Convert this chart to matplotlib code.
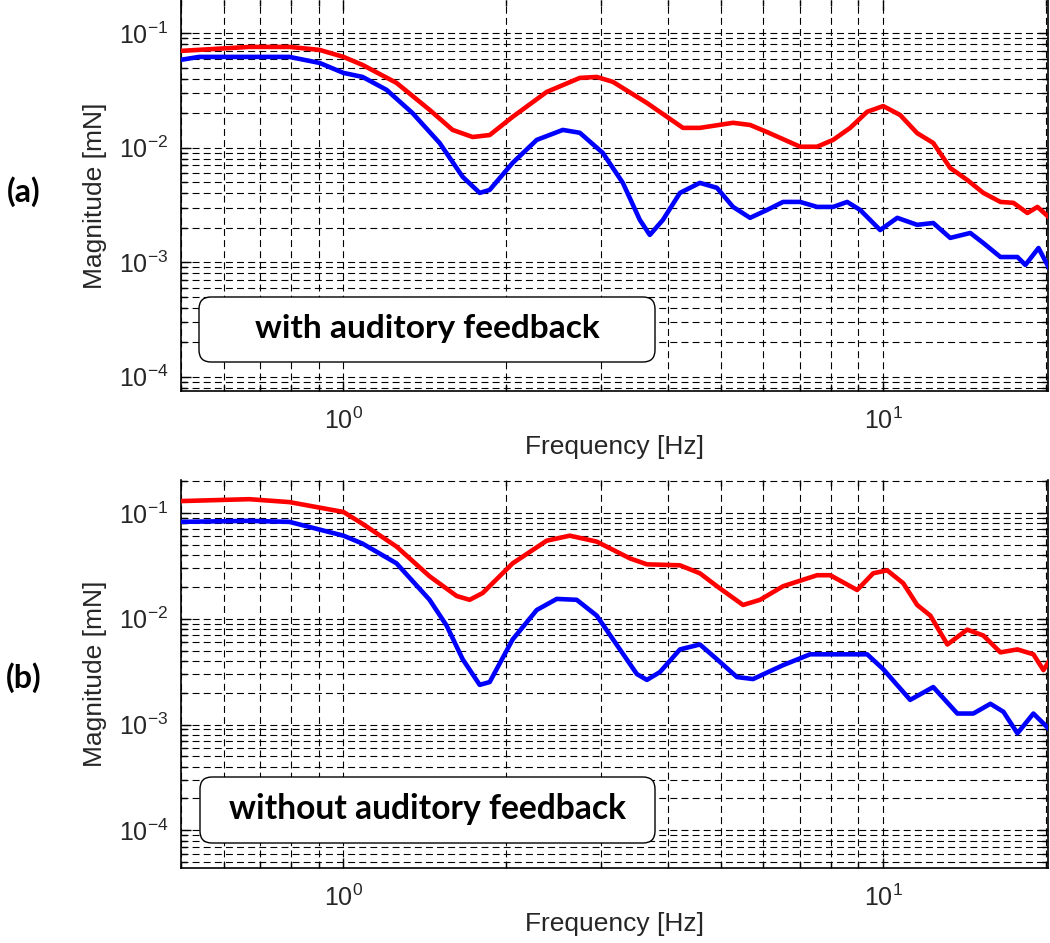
import numpy as np
import matplotlib.pyplot as plt
from matplotlib.patches import FancyBboxPatch
from matplotlib.transforms import IdentityTransform
from matplotlib.ticker import LogLocator, NullFormatter

plt.rcParams['font.family'] = ['Liberation Sans', 'DejaVu Sans']
plt.rcParams['lines.scale_dashes'] = False

# (a) with auditory feedback
f_a_red = [0.498, 0.669, 0.794, 0.903, 1.0, 1.085, 1.254, 1.444, 1.593, 1.735, 1.866,
           2.058, 2.380, 2.741, 2.946, 3.156, 3.649, 4.256, 4.575, 5.270, 5.667, 6.093,
           7.015, 7.544, 8.077, 8.686, 9.340, 10.0, 10.75, 11.56, 12.38, 13.31, 14.31,
           15.33, 16.49, 17.43, 18.50, 19.31, 20.24]
mag_a_red = [0.0700, 0.0759, 0.0759, 0.0715, 0.0621, 0.0528, 0.0368, 0.0214, 0.0143, 0.0124,
             0.0129, 0.0186, 0.0307, 0.0407, 0.0415, 0.0376, 0.0246, 0.0149, 0.0149, 0.0165,
             0.0158, 0.0137, 0.0102, 0.0102, 0.0117, 0.0149, 0.0206, 0.0231, 0.0193, 0.0134,
             0.0110, 0.00665, 0.00523, 0.00403, 0.00336, 0.00330, 0.00269, 0.00304, 0.00249]

f_a_blue = [0.498, 0.540, 0.794, 0.903, 1.0, 1.085, 1.202, 1.342, 1.507, 1.663, 1.788, 1.866,
            2.058, 2.281, 2.549, 2.741, 3.023, 3.293, 3.541, 3.695, 3.907, 4.202, 4.575,
            4.920, 5.270, 5.667, 6.093, 6.524, 7.015, 7.544, 8.077, 8.576, 9.065, 9.872,
            10.62, 11.56, 12.38, 13.31, 14.50, 15.33, 16.49, 17.73, 18.34, 19.40, 20.24]
mag_a_blue = [0.0584, 0.0621, 0.0621, 0.0550, 0.0450, 0.0415, 0.0320, 0.0201, 0.0110, 0.00556,
              0.00403, 0.00428, 0.00737, 0.0117, 0.0143, 0.0135, 0.00901, 0.00493, 0.00234,
              0.00173, 0.00234, 0.00403, 0.00493, 0.00446, 0.00304, 0.00244, 0.00286, 0.00336,
              0.00336, 0.00304, 0.00304, 0.00336, 0.00286, 0.00191, 0.00244, 0.00212, 0.00220,
              0.00163, 0.00180, 0.00147, 0.00111, 0.00111, 0.000947, 0.00133, 0.000910]

# (b) without auditory feedback
f_b_red = [0.498, 0.669, 0.794, 1.0, 1.085, 1.254, 1.444, 1.621, 1.713, 1.811, 2.058, 2.380,
           2.626, 2.946, 3.394, 3.649, 4.202, 4.575, 4.920, 5.499, 5.914, 6.524, 7.544,
           7.976, 8.948, 9.582, 10.17, 10.89, 11.56, 12.23, 13.15, 14.31, 15.33, 16.49,
           17.73, 18.98, 19.81, 20.24]
mag_b_red = [0.1295, 0.135, 0.1267, 0.1022, 0.0789, 0.0481, 0.0252, 0.0164, 0.0151, 0.0175,
             0.0334, 0.0547, 0.0610, 0.0536, 0.0372, 0.0327, 0.0320, 0.0269, 0.0203, 0.0135,
             0.0151, 0.0203, 0.0258, 0.0258, 0.0187, 0.0269, 0.0287, 0.0217, 0.0135, 0.0107,
             0.00571, 0.00789, 0.00694, 0.00481, 0.00513, 0.00461, 0.00327, 0.00388]

f_b_blue = [0.498, 0.669, 0.794, 1.0, 1.085, 1.254, 1.444, 1.553, 1.663, 1.788, 1.866, 2.058,
            2.281, 2.484, 2.705, 2.946, 3.252, 3.496, 3.649, 3.857, 4.202, 4.575, 4.920,
            5.359, 5.739, 6.524, 7.320, 8.216, 9.340, 10.0, 11.22, 12.38, 13.72, 14.69,
            15.80, 16.70, 17.73, 18.98, 20.24]
mag_b_blue = [0.0824, 0.0842, 0.0824, 0.0610, 0.0513, 0.0334, 0.0151, 0.00860, 0.00414,
              0.00237, 0.00252, 0.00637, 0.0121, 0.0154, 0.0151, 0.0107, 0.00513, 0.00300,
              0.00264, 0.00313, 0.00513, 0.00571, 0.00414, 0.00281, 0.00269, 0.00364, 0.00461,
              0.00461, 0.00461, 0.00334, 0.00171, 0.00226, 0.00127, 0.00127, 0.00157, 0.00132,
              0.000825, 0.00127, 0.000918]

W, H = 1050, 943
fig = plt.figure(figsize=(W / 100, H / 100), dpi=100)

ax_a = fig.add_axes([181 / W, 1 - 391 / H, 867 / W, 391 / H])
ax_b = fig.add_axes([181 / W, 1 - 868 / H, 867 / W, 388 / H])

panels = [
    (ax_a, f_a_red, mag_a_red, f_a_blue, mag_a_blue, (7.5e-5, 0.195)),
    (ax_b, f_b_red, mag_b_red, f_b_blue, mag_b_blue, (4.4e-5, 0.205)),
]

for ax, fr, mr, fb, mb, ylim in panels:
    ax.plot(fr, mr, color='red', lw=3.3, zorder=3)
    ax.plot(fb, mb, color='blue', lw=3.3, zorder=3)
    ax.set_xscale('log')
    ax.set_yscale('log')
    ax.set_xlim(0.5, 20.2)
    ax.set_ylim(*ylim)
    for axis in (ax.xaxis, ax.yaxis):
        axis.set_major_locator(LogLocator(base=10))
        axis.set_minor_locator(LogLocator(base=10, subs=np.arange(2, 10)))
        axis.set_minor_formatter(NullFormatter())
    ax.grid(True, which='both', color='black', lw=0.8, linestyle=(0, (5, 3)))
    ax.tick_params(which='both', direction='in', top=True, right=True,
                   labelsize=18, labelcolor='#262626', width=1)
    ax.tick_params(which='major', length=7)
    ax.tick_params(which='minor', length=4)
    ax.tick_params(axis='x', pad=12)
    ax.tick_params(axis='y', pad=9)
    ax.spines['top'].set_visible(False)
    for s in ('left', 'bottom', 'right'):
        ax.spines[s].set_linewidth(1.2)
    ax.set_xlabel('Frequency [Hz]', fontsize=19, color='#262626')
    ax.set_ylabel('Magnitude [mN]', fontsize=19, color='#262626')
    h_px = ax.get_position().height * H
    ax.xaxis.set_label_coords(0.5, -56 / h_px)
    ax.xaxis.label.set_va('center')
    ax.yaxis.set_label_coords(-74 / 867, 0.5)

# rounded label boxes
boxes = [
    (ax_a, 'with auditory feedback', (199, H - 362, 456, 65), 345),
    (ax_b, 'without auditory feedback', (200, H - 843, 455, 66), 397),
]
renderer = fig.canvas.get_renderer()
for ax, label, (x0, y0, w, h), tw in boxes:
    box = FancyBboxPatch((x0, y0), w, h, boxstyle='round,pad=0,rounding_size=12',
                         transform=IdentityTransform(), fc='white', ec='black',
                         lw=1.0, zorder=5)
    ax.add_artist(box)
    t = fig.text((x0 + w / 2) / W, (y0 + h / 2 + 1) / H, label, ha='center', va='center',
                 fontsize=20, fontweight='bold', family=['Lato', 'DejaVu Sans'], zorder=6)
    bb = t.get_window_extent(renderer)
    t.set_fontsize(20 * tw / bb.width)

fig.text(24 / W, 1 - 192 / H, '(a)', ha='center', va='center', fontsize=23,
         fontweight='bold', family=['Lato', 'DejaVu Sans'])
fig.text(24 / W, 1 - 678 / H, '(b)', ha='center', va='center', fontsize=23,
         fontweight='bold', family=['Lato', 'DejaVu Sans'])

fig.savefig('out.png', dpi=100)
